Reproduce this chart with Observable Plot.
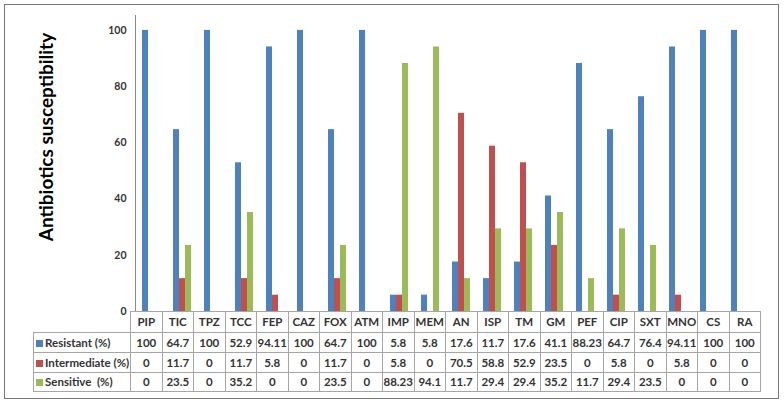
<!DOCTYPE html>
<html><head><meta charset="utf-8">
<script src="https://cdn.jsdelivr.net/npm/d3@7"></script>
<script src="https://cdn.jsdelivr.net/npm/@observablehq/plot@0.6"></script>
<style>
body{margin:0;background:#fff;}
#fig{position:relative;width:784px;height:406px;background:#fff;font-family:Lato,"Open Sans",sans-serif;overflow:hidden}
#frame{position:absolute;left:4px;top:4px;width:775px;height:395px;box-sizing:border-box;border:1.5px solid #777;}
#chart{position:absolute;left:0;top:0}
#title{position:absolute;left:45px;top:137px;transform:translate(-50%,-50%) rotate(-90deg);font-weight:bold;font-size:19px;white-space:nowrap;color:#000}
#tbl{position:absolute;left:33px;top:310.5px;border-collapse:collapse;table-layout:fixed;font-size:11.5px;font-weight:bold;color:#333;font-family:Lato,sans-serif}
#tbl td{border:1px solid #a6a6a6;text-align:center;padding:0;white-space:pre;overflow:hidden}
#tbl td.blank{border:none}
#tbl td.lab{text-align:left;padding-left:2px}
#tbl .key{display:inline-block;width:7px;height:7px;margin-right:2px;vertical-align:0px}
</style>
</head><body>
<div id="fig">
  <div id="frame"></div>
  <div id="chart"></div>
  <div id="title">Antibiotics susceptibility</div>
</div>
<script>
const categories = ["PIP","TIC","TPZ","TCC","FEP","CAZ","FOX","ATM","IMP","MEM","AN","ISP","TM","GM","PEF","CIP","SXT","MNO","CS","RA"];
const series = ["Resistant","Intermediate","Sensitive"];
const seriesLabels = ["Resistant (%)","Intermediate (%)","Sensitive  (%)"];
const resistant = [100,64.7,100,52.9,94.11,100,64.7,100,5.8,5.8,17.6,11.7,17.6,41.1,88.23,64.7,76.4,94.11,100,100];
const intermediate = [0,11.7,0,11.7,5.8,0,11.7,0,5.8,0,70.5,58.8,52.9,23.5,0,5.8,0,5.8,0,0];
const sensitive = [0,23.5,0,35.2,0,0,23.5,0,88.23,94.1,11.7,29.4,29.4,35.2,11.7,29.4,23.5,0,0,0];
const yTicks = [0,20,40,60,80,100];
const colors = ["#4F81BD","#C0504D","#9BBB59"];

const valuesBySeries = [resistant, intermediate, sensitive];
const data = categories.flatMap((c, i) => series.map((s, j) => ({cat: c, series: s, value: valuesBySeries[j][i]})));

const chart = Plot.plot({
  width: 784, height: 311,
  marginLeft: 130, marginRight: 24, marginTop: 15, marginBottom: 0,
  style: {fontFamily: "Lato, sans-serif", fontSize: "10.5px", color: "#333", fontWeight: "bold", background: "transparent", overflow: "visible"},
  fx: {domain: categories, padding: 0, axis: null, label: null},
  x: {domain: series, paddingInner: 0, paddingOuter: 0.923, axis: null},
  y: {domain: [0, 105.3], label: null},
  color: {domain: series, range: colors},
  marks: [
    Plot.barY(data, {fx: "cat", x: "series", y: "value", fill: "series", inset: 0}),
    Plot.axisY({ticks: yTicks, tickSize: 0, tickPadding: 9, label: null, fill: "#333"}),
    Plot.frame({anchor: "left", facetAnchor: "left", stroke: "#8a8a8a"})
  ]
});
document.getElementById("chart").appendChild(chart);

// data table below the chart
const tbl = document.createElement("table");
tbl.id = "tbl";
const colgroup = document.createElement("colgroup");
[97, ...categories.map(() => 31.5)].forEach(w => {
  const col = document.createElement("col");
  col.style.width = w + "px";
  colgroup.appendChild(col);
});
tbl.appendChild(colgroup);
const head = document.createElement("tr");
head.style.height = "21px";
const blank = document.createElement("td");
blank.className = "blank";
head.appendChild(blank);
categories.forEach(c => {
  const td = document.createElement("td");
  td.textContent = c;
  head.appendChild(td);
});
tbl.appendChild(head);
series.forEach((s, j) => {
  const tr = document.createElement("tr");
  tr.style.height = (j === 2 ? 19.5 : 20) + "px";
  const lab = document.createElement("td");
  lab.className = "lab";
  const key = document.createElement("span");
  key.className = "key";
  key.style.background = colors[j];
  lab.appendChild(key);
  lab.appendChild(document.createTextNode(seriesLabels[j]));
  tr.appendChild(lab);
  valuesBySeries[j].forEach(v => {
    const td = document.createElement("td");
    td.textContent = String(v);
    tr.appendChild(td);
  });
  tbl.appendChild(tr);
});
document.getElementById("fig").appendChild(tbl);
</script>
</body></html>
